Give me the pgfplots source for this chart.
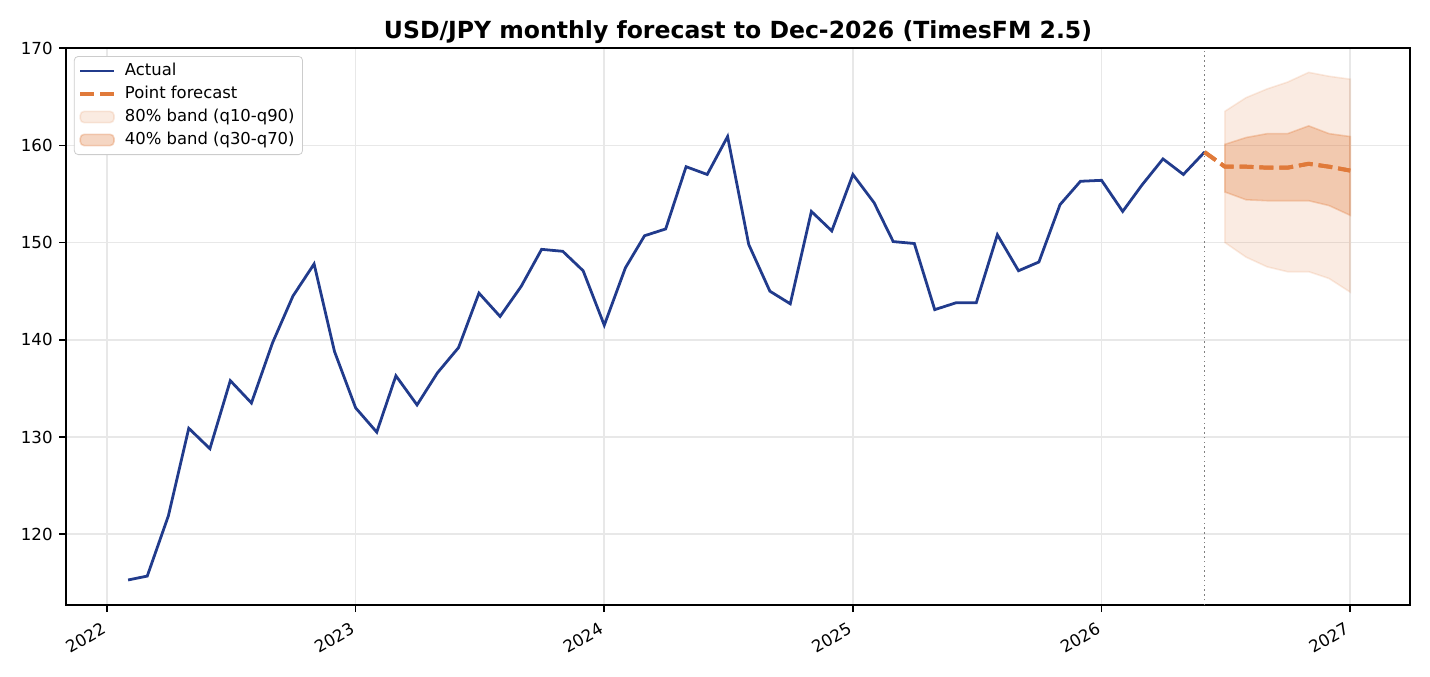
\documentclass[border=0pt]{standalone}
\usepackage{pgfplots}
\pgfplotsset{compat=1.18}
\usepackage{fontspec}
\setmainfont{DejaVu Sans}
\definecolor{actual}{RGB}{33,59,140}
\definecolor{fc}{RGB}{224,122,58}
\begin{document}
\begin{tikzpicture}
\begin{axis}[
  scale only axis, width=676.7bp, height=280.5bp,
  xmin=2021.835, xmax=2027.241, ymin=112.7, ymax=170,
  xtick={2022,2023,2024,2025,2026,2027},
  xticklabels={2022,2023,2024,2025,2026,2027},
  ytick={120,130,140,150,160,170},
  yticklabels={120,130,140,150,160,170},
  tick align=outside, xtick pos=bottom, ytick pos=left,
  major tick length=3.5bp,
  tick style={black, line width=0.8bp},
  axis line style={line width=0.8bp},
  grid=major, grid style={black!9, line width=0.8bp},
  ticklabel style={font=\fontsize{8.4}{10}\selectfont},
  xticklabel style={rotate=30, anchor=north east, inner sep=2.5bp, xshift=-2.5bp},
  yticklabel style={inner sep=3bp},
  title={USD/JPY monthly forecast to Dec-2026 (TimesFM 2.5)},
  title style={font=\bfseries\fontsize{11.9}{14}\selectfont, yshift=-7bp},
  legend cell align=left,
  legend style={at={(0,1)}, anchor=north west, xshift=4bp, yshift=-4bp,
    draw=black!20, rounded corners=2bp, font=\fontsize{8.3}{10}\selectfont,
    inner xsep=2bp, inner ysep=1.5bp, row sep=-0.2bp, column sep=2.5bp},
]
\addplot[actual, line width=1.4bp] coordinates {
(2022.085,115.3) (2022.162,115.7) (2022.247,121.9) (2022.329,130.9) (2022.414,128.8) (2022.496,135.8)
(2022.581,133.5) (2022.666,139.7) (2022.748,144.5) (2022.833,147.8) (2022.915,138.8) (2023.000,133.0)
(2023.085,130.5) (2023.162,136.3) (2023.247,133.3) (2023.329,136.6) (2023.414,139.2) (2023.496,144.8)
(2023.581,142.4) (2023.666,145.5) (2023.748,149.3) (2023.833,149.1) (2023.915,147.1) (2024.000,141.5)
(2024.085,147.4) (2024.162,150.7) (2024.247,151.4) (2024.329,157.8) (2024.414,157.0) (2024.496,160.9)
(2024.581,149.8) (2024.666,145.0) (2024.748,143.7) (2024.833,153.2) (2024.915,151.2) (2025.000,157.0)
(2025.085,154.1) (2025.162,150.1) (2025.247,149.9) (2025.329,143.1) (2025.414,143.8) (2025.496,143.8)
(2025.581,150.8) (2025.666,147.1) (2025.748,148.0) (2025.833,153.9) (2025.915,156.3) (2026.000,156.4)
(2026.085,153.2) (2026.162,155.9) (2026.247,158.6) (2026.329,157.0) (2026.414,159.3)
};
\addlegendentry{Actual}
\addplot[fc, line width=2bp, dash pattern=on 7bp off 3bp] coordinates {
(2026.414,159.3) (2026.496,157.8) (2026.581,157.8) (2026.666,157.7) (2026.748,157.7) (2026.833,158.1) (2026.915,157.8) (2027.000,157.4)
};
\addlegendentry{Point forecast}
\addplot[area legend, fill=fc, fill opacity=0.15, draw=fc, draw opacity=0.15, line width=0.8bp] coordinates {
(2026.496,163.5) (2026.581,164.9) (2026.666,165.8) (2026.748,166.5) (2026.833,167.5) (2026.915,167.1) (2027.000,166.8)
(2027.000,144.9) (2026.915,146.3) (2026.833,147.0) (2026.748,147.0) (2026.666,147.5) (2026.581,148.5) (2026.496,150.0)
} -- cycle;
\addlegendentry{80\% band (q10-q90)}
\addplot[area legend, fill=fc, fill opacity=0.3, draw=fc, draw opacity=0.3, line width=0.8bp] coordinates {
(2026.496,160.1) (2026.581,160.8) (2026.666,161.2) (2026.748,161.2) (2026.833,162.0) (2026.915,161.2) (2027.000,160.9)
(2027.000,152.8) (2026.915,153.8) (2026.833,154.3) (2026.748,154.3) (2026.666,154.3) (2026.581,154.4) (2026.496,155.2)
} -- cycle;
\addlegendentry{40\% band (q30-q70)}
\addplot[forget plot, fc, line width=2bp, dash pattern=on 7bp off 3bp] coordinates {
(2026.414,159.3) (2026.496,157.8) (2026.581,157.8) (2026.666,157.7) (2026.748,157.7) (2026.833,158.1) (2026.915,157.8) (2027.000,157.4)
};
\addplot[forget plot, black!50, line width=0.8bp, dash pattern=on 0.8bp off 1.6bp] coordinates {(2026.414,112.7) (2026.414,170)};
\end{axis}
\pgfresetboundingbox
\useasboundingbox ([shift={(-33.2bp,-35.7bp)}]current axis.south west) rectangle ([shift={(10bp,24.2bp)}]current axis.north east);
\end{tikzpicture}
\end{document}
